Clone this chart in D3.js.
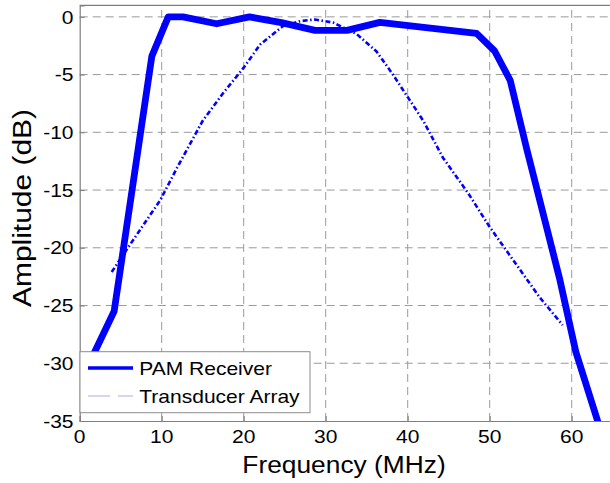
<!DOCTYPE html>
<html>
<head>
<meta charset="utf-8">
<script src="https://cdn.jsdelivr.net/npm/d3@7"></script>
<style>
  html, body { margin: 0; padding: 0; background: #fff; }
  svg { display: block; font-family: "Liberation Sans", Arial, sans-serif; }
</style>
</head>
<body>
<svg id="chart" width="610" height="483"></svg>
<script>
// ---- data ----
const xTicks = [0, 10, 20, 30, 40, 50, 60];
const yTicks = [0, -5, -10, -15, -20, -25, -30, -35];
const seriesNames = ["PAM Receiver", "Transducer Array"];

const pamFreq = [0.5, 4.2, 6.2, 8.8, 10.8, 12.6, 16.7, 20.7, 24.6, 28.7, 32.6, 36.6, 48.4, 50.6, 52.5, 54.5, 56.5, 58.5, 60.5, 62.5, 64];
const pamAmp  = [-31, -25.5, -15.9, -3.4, 0, 0, -0.6, 0, -0.5, -1.17, -1.17, -0.48, -1.43, -2.96, -5.5, -11.4, -17, -22.6, -29, -33.5, -36.9];

const taFreq = [3.9, 5.4, 7.5, 9.8, 12, 15, 17.5, 20, 22, 24.8, 26.9, 28.7, 30.9, 33.8, 36.2, 38.2, 41.9, 44.3, 47.4, 50, 52.9, 56.1, 58.9];
const taAmp  = [-22.1, -20.5, -18.3, -15.9, -12.9, -9.0, -6.6, -4.4, -2.4, -0.8, -0.37, -0.23, -0.5, -1.5, -3.0, -5.0, -9.0, -12.2, -15.3, -18.2, -21.1, -24.3, -26.7];

// ---- layout ----
const svg = d3.select("#chart");
const L = 79.7, T = 5.3, B = 421;
const x = d3.scaleLinear().domain([0, 65]).range([L, L + 65 * 8.2]);
const y = d3.scaleLinear().domain([-35, 1]).range([B, T]);
const R = x.range()[1];
const SX = 1.13; // horizontal stretch of text in the reference

svg.append("defs").append("clipPath").attr("id", "clip")
  .append("rect").attr("x", L).attr("y", T).attr("width", R - L).attr("height", B - T);

// grid
const grid = svg.append("g");
grid.selectAll("line.gx").data(xTicks.filter(d => d > 0)).join("line")
  .attr("x1", d => x(d)).attr("x2", d => x(d)).attr("y1", B).attr("y2", T)
  .attr("stroke", "#9a9a9a").attr("stroke-width", 1).attr("stroke-dasharray", "8,5");
grid.selectAll("line.gy").data(yTicks.filter(d => d > -35)).join("line")
  .attr("y1", d => y(d)).attr("y2", d => y(d)).attr("x1", L).attr("x2", R)
  .attr("stroke", "#9a9a9a").attr("stroke-width", 1).attr("stroke-dasharray", "8,5");

// axes
const axisColor = "#7f7f7f";
const xAxis = svg.append("g").attr("transform", `translate(0,${B})`)
  .call(d3.axisBottom(x).tickValues(xTicks).tickSize(-5).tickFormat(""));
const yAxis = svg.append("g").attr("transform", `translate(${L},0)`)
  .call(d3.axisLeft(y).tickValues(yTicks).tickSize(-5).tickFormat(""));
[xAxis, yAxis].forEach(g => {
  g.select(".domain").attr("stroke", axisColor).attr("stroke-width", 1.2);
  g.selectAll(".tick line").attr("stroke", axisColor);
});
svg.append("line").attr("x1", L).attr("x2", R).attr("y1", T).attr("y2", T)
  .attr("stroke", axisColor).attr("stroke-width", 1.2);

// tick labels
svg.append("g").selectAll("text").data(xTicks).join("text")
  .attr("transform", d => `translate(${x(d)},443) scale(${SX},1)`)
  .attr("text-anchor", "middle").attr("font-size", 18.6).attr("fill", "#000")
  .text(d => d);
svg.append("g").selectAll("text").data(yTicks).join("text")
  .attr("transform", d => `translate(73.5,${y(d) + 6.7}) scale(${SX},1)`)
  .attr("text-anchor", "end").attr("font-size", 18.6).attr("fill", "#000")
  .text(d => d);

// axis labels
svg.append("text")
  .attr("transform", `translate(${(240 + 448) / 2},473) scale(${SX},1)`)
  .attr("text-anchor", "middle").attr("font-size", 23.3).text("Frequency (MHz)");
svg.append("text")
  .attr("transform", `translate(31,208) scale(${SX},1) rotate(-90)`)
  .attr("text-anchor", "middle").attr("font-size", 23.5)
  .attr("textLength", 198).attr("lengthAdjust", "spacingAndGlyphs")
  .text("Amplitude (dB)");

// lines
const plot = svg.append("g").attr("clip-path", "url(#clip)");
const line = d3.line().x(d => x(d[0])).y(d => y(d[1]));
const pam = pamFreq.map((f, i) => [f, pamAmp[i]]);
const ta = taFreq.map((f, i) => [f, taAmp[i]]);

plot.append("path").datum(ta).attr("d", line)
  .attr("fill", "none").attr("stroke", "#0000ff").attr("stroke-width", 2.6)
  .attr("stroke-dasharray", "5,2.5,1.5,2.5");
plot.append("path").datum(pam).attr("d", line)
  .attr("fill", "none").attr("stroke", "#0000ff").attr("stroke-width", 6.8)
  .attr("stroke-linejoin", "round");

// legend
const lg = svg.append("g");
lg.append("rect").attr("x", 80).attr("y", 351.7).attr("width", 230).attr("height", 61)
  .attr("fill", "#fff").attr("stroke", "#8c8c8c").attr("stroke-width", 1);
lg.append("line").attr("x1", 88).attr("x2", 133).attr("y1", 368).attr("y2", 368)
  .attr("stroke", "#0000ff").attr("stroke-width", 3.3);
lg.append("line").attr("x1", 88).attr("x2", 133).attr("y1", 396).attr("y2", 396)
  .attr("stroke", "#c9c9ee").attr("stroke-width", 1.6).attr("stroke-dasharray", "22,8");
lg.selectAll("text").data(seriesNames).join("text")
  .attr("transform", (d, i) => `translate(139.3,${375 + i * 28}) scale(${SX},1)`)
  .attr("font-size", 18.6).attr("fill", "#000").text(d => d);
</script>
</body>
</html>
